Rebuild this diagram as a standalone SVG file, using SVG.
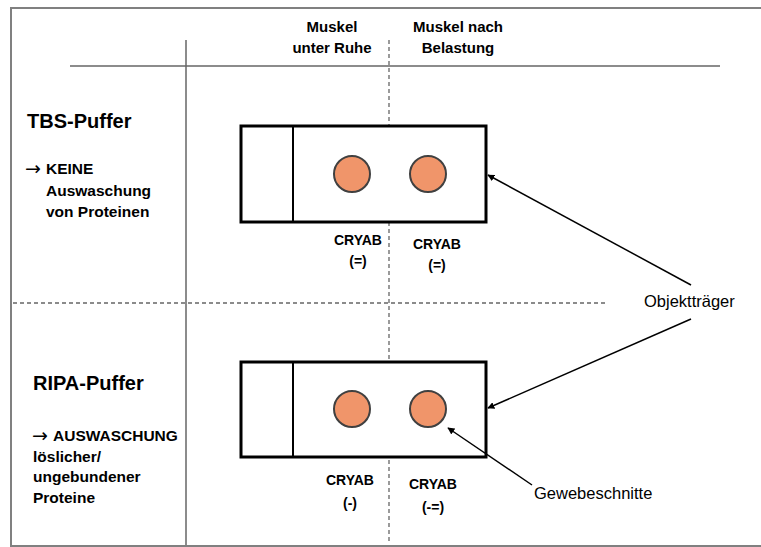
<svg xmlns="http://www.w3.org/2000/svg" width="761" height="547" viewBox="0 0 761 547">
<defs>
<style>
.t{font-family:"Liberation Sans",Arial,sans-serif;fill:#000}
.h{font-size:15px;font-weight:bold}
.l{font-size:15.5px;font-weight:bold}
.arr{font-family:"DejaVu Sans",sans-serif;font-size:19px;fill:#000}
.big{font-size:20px;font-weight:bold}
.lab{font-size:14px;font-weight:bold}
.reg{font-size:16.5px}
.grid{stroke:#666;stroke-width:1.5;fill:none}
.dash{stroke:#666;stroke-width:1.3;stroke-dasharray:4,3;fill:none}
.slide{fill:#fff;stroke:#000;stroke-width:3}
.div{stroke:#000;stroke-width:2}
.tissue{fill:#F0956A;stroke:#404040;stroke-width:2}
.conn{stroke:#000;stroke-width:1.5;fill:none;marker-end:url(#ah)}
</style>
<marker id="ah" viewBox="0 0 10 10" refX="9" refY="5" markerWidth="7" markerHeight="7" markerUnits="userSpaceOnUse" orient="auto">
<path d="M0,0 L10,5 L0,10 z" fill="#000"/>
</marker>
</defs>
<rect width="761" height="547" fill="#fff"/>
<g id="frame">
<rect x="11" y="8" width="760" height="538" fill="none" stroke="#808080" stroke-width="2"/>
<line class="grid" x1="70" y1="66" x2="720" y2="66"/>
<line class="grid" x1="186" y1="40" x2="186" y2="545"/>
<line class="dash" x1="389" y1="40" x2="389" y2="542"/>
<line class="dash" x1="13" y1="303" x2="608" y2="303"/>
</g>
<g id="header">
<text class="t h" x="332" y="32" text-anchor="middle">Muskel</text>
<text class="t h" x="332" y="53" text-anchor="middle">unter Ruhe</text>
<text class="t h" x="458" y="32" text-anchor="middle">Muskel nach</text>
<text class="t h" x="458" y="53" text-anchor="middle">Belastung</text>
</g>
<g id="tbs-label">
<text class="t big" x="27" y="128">TBS-Puffer</text>
<text class="arr" x="25" y="175">→</text>
<text class="t l" x="46" y="174">KEINE</text>
<text class="t l" x="46" y="196">Auswaschung</text>
<text class="t l" x="46" y="217">von Proteinen</text>
</g>
<g id="ripa-label">
<text class="t big" x="33" y="390">RIPA-Puffer</text>
<text class="arr" x="32" y="442">→</text>
<text class="t l" x="53" y="441">AUSWASCHUNG</text>
<text class="t l" x="33" y="462">löslicher/</text>
<text class="t l" x="33" y="482">ungebundener</text>
<text class="t l" x="33" y="503">Proteine</text>
</g>
<g id="slide-tbs">
<rect class="slide" x="241" y="126" width="245" height="96"/>
<line class="div" x1="293" y1="126" x2="293" y2="222"/>
<circle class="tissue" cx="352" cy="174" r="18"/>
<circle class="tissue" cx="428" cy="174" r="18"/>
<text class="t lab" x="358" y="245" text-anchor="middle">CRYAB</text>
<text class="t lab" x="358" y="266" text-anchor="middle">(=)</text>
<text class="t lab" x="437" y="249" text-anchor="middle">CRYAB</text>
<text class="t lab" x="437" y="270" text-anchor="middle">(=)</text>
</g>
<g id="slide-ripa">
<rect class="slide" x="241" y="362" width="245" height="95"/>
<line class="div" x1="293" y1="362" x2="293" y2="457"/>
<circle class="tissue" cx="352" cy="409" r="18"/>
<circle class="tissue" cx="428" cy="409" r="18"/>
<text class="t lab" x="350" y="485" text-anchor="middle">CRYAB</text>
<text class="t lab" x="350" y="508" text-anchor="middle">(-)</text>
<text class="t lab" x="433" y="489" text-anchor="middle">CRYAB</text>
<text class="t lab" x="433" y="512" text-anchor="middle">(-=)</text>
</g>
<g id="objekttraeger">
<text class="t reg" x="644" y="307">Objektträger</text>
</g>
<g id="gewebeschnitte">
<text class="t reg" x="534" y="499">Gewebeschnitte</text>
</g>
<g id="connectors">
<line class="conn" x1="691" y1="285" x2="488" y2="175"/>
<line class="conn" x1="691" y1="319" x2="488" y2="408"/>
<line class="conn" x1="532" y1="485" x2="448" y2="428"/>
</g>
</svg>
